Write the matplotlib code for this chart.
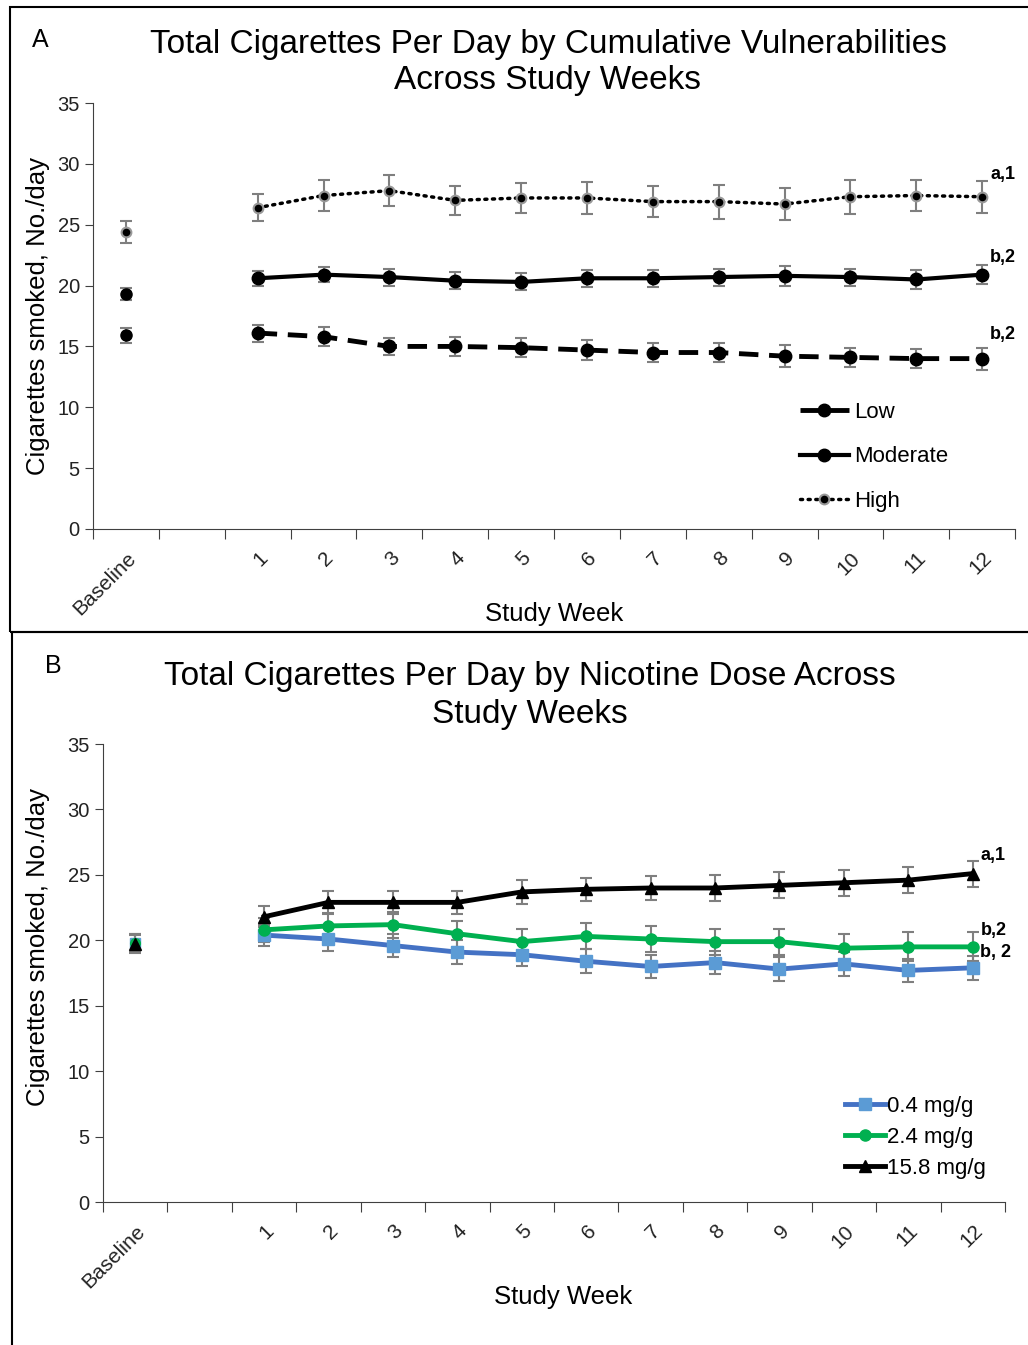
import numpy as np
import matplotlib.pyplot as plt
from matplotlib.patches import Rectangle
from matplotlib.lines import Line2D

plt.rcParams["font.family"] = ["Liberation Sans", "DejaVu Sans"]

# categories: Baseline, empty gap, weeks 1-12
tick_labels = ["Baseline", ""] + [str(w) for w in range(1, 13)]

# Panel A: cumulative vulnerabilities
vuln_names = ["Low", "Moderate", "High"]
low_base, low_base_err = 15.9, 0.6
mod_base, mod_base_err = 19.3, 0.5
high_base, high_base_err = 24.4, 0.9
low_weeks = [16.1, 15.8, 15.0, 15.0, 14.9, 14.7, 14.5, 14.5, 14.2, 14.1, 14.0, 14.0]
low_err = [0.7, 0.8, 0.7, 0.8, 0.8, 0.8, 0.8, 0.8, 0.9, 0.8, 0.8, 0.9]
mod_weeks = [20.6, 20.9, 20.7, 20.4, 20.3, 20.6, 20.6, 20.7, 20.8, 20.7, 20.5, 20.9]
mod_err = [0.6, 0.6, 0.7, 0.7, 0.7, 0.7, 0.7, 0.7, 0.8, 0.7, 0.8, 0.8]
high_weeks = [26.4, 27.4, 27.8, 27.0, 27.2, 27.2, 26.9, 26.9, 26.7, 27.3, 27.4, 27.3]
high_err = [1.1, 1.3, 1.3, 1.2, 1.2, 1.3, 1.3, 1.4, 1.3, 1.4, 1.3, 1.3]
vuln_notes = ["b,2", "b,2", "a,1"]

# Panel B: nicotine dose
dose_names = ["0.4 mg/g", "2.4 mg/g", "15.8 mg/g"]
dose_base = [19.8, 19.8, 19.7]
dose_base_err = [0.7, 0.7, 0.7]
d04_weeks = [20.4, 20.1, 19.6, 19.1, 18.9, 18.4, 18.0, 18.3, 17.8, 18.2, 17.7, 17.9]
d04_err = [0.8, 0.9, 0.9, 0.9, 0.9, 0.9, 0.9, 0.9, 0.9, 0.9, 0.9, 0.9]
d24_weeks = [20.8, 21.1, 21.2, 20.5, 19.9, 20.3, 20.1, 19.9, 19.9, 19.4, 19.5, 19.5]
d24_err = [0.9, 1.0, 1.0, 1.0, 1.0, 1.0, 1.0, 1.0, 1.0, 1.1, 1.1, 1.1]
d158_weeks = [21.8, 22.9, 22.9, 22.9, 23.7, 23.9, 24.0, 24.0, 24.2, 24.4, 24.6, 25.1]
d158_err = [0.8, 0.9, 0.9, 0.9, 0.9, 0.9, 0.9, 1.0, 1.0, 1.0, 1.0, 1.0]
dose_notes = ["b, 2", "b,2", "a,1"]

base_x = 0.5
week_x = np.arange(12) + 2.5
err_col = "#7f7f7f"


def style_axis(ax):
    ax.set_xlim(0, 14)
    ax.set_ylim(0, 35)
    ax.set_yticks(range(0, 36, 5))
    ax.spines["top"].set_visible(False)
    ax.spines["right"].set_visible(False)
    ax.spines["left"].set_color("#404040")
    ax.spines["bottom"].set_color("#404040")
    ax.set_xticks(range(15))
    ax.set_xticklabels([])
    ax.set_xticks(np.arange(14) + 0.5, minor=True)
    ax.set_xticklabels(tick_labels, minor=True, rotation=45, ha="right",
                       rotation_mode="anchor", fontsize=15, color="#222222")
    ax.tick_params(axis="x", which="major", direction="out", length=7, color="#404040")
    ax.tick_params(axis="x", which="minor", length=0, pad=14)
    ax.tick_params(axis="y", direction="out", length=6, labelsize=14.5,
                   color="#404040", labelcolor="#222222")


fig = plt.figure(figsize=(10.28, 13.45), dpi=100)

# panel frames
fig.patches.append(Rectangle((10 / 1028, 1 - 632 / 1345), 1.2, 625 / 1345,
                             transform=fig.transFigure, fill=False, lw=1.5, ec="black"))
fig.patches.append(Rectangle((12 / 1028, -0.1), 1.2, 0.1 + 1 - 632 / 1345,
                             transform=fig.transFigure, fill=False, lw=1.5, ec="black"))

# ---------- Panel A ----------
axA = fig.add_axes([0.0905, 0.6067, 0.897, 0.3167])
style_axis(axA)

ekw = dict(ecolor=err_col, elinewidth=1.5, capsize=4, capthick=1.5)
for b, be in [(low_base, low_base_err), (mod_base, mod_base_err)]:
    axA.errorbar(base_x, b, yerr=be, fmt="o", color="black", ms=8, **ekw)
axA.errorbar(base_x, high_base, yerr=high_base_err, fmt="o", color="black",
             mec="#999999", mew=1.5, ms=7, **ekw)

low_style = dict(color="black", lw=3.5, ls=(0, (4, 2.2)), marker="o", ms=9)
mod_style = dict(color="black", lw=3, marker="o", ms=9)
high_style = dict(color="black", lw=2.5, ls=(0, (0.6, 1.6)), dash_capstyle="round",
                  marker="o", ms=7, mec="#999999", mew=1.5)
axA.errorbar(week_x, low_weeks, yerr=low_err, **low_style, **ekw)
axA.errorbar(week_x, mod_weeks, yerr=mod_err, **mod_style, **ekw)
axA.errorbar(week_x, high_weeks, yerr=high_err, **high_style, **ekw)

for y, note in zip([low_weeks[-1] + 1.3, mod_weeks[-1] + 0.7, high_weeks[-1] + 1.1], vuln_notes):
    axA.text(week_x[-1] + 0.12, y, note, fontsize=13, fontweight="bold", va="bottom")

hA = [Line2D([], [], **s) for s in (low_style, mod_style, high_style)]
axA.legend(hA, vuln_names, loc="upper left", bbox_to_anchor=(0.745, 0.345), frameon=False,
           fontsize=16, handlelength=2.2, labelspacing=1.05, handletextpad=0.25)

fig.text(40 / 1028, 1 - 40 / 1345, "A", fontsize=18, ha="center", va="center")
fig.text(548 / 1028, 1 - 44 / 1345, "Total Cigarettes Per Day by Cumulative Vulnerabilities",
         fontsize=24, ha="center", va="center")
fig.text(548 / 1028, 1 - 81 / 1345, "Across Study Weeks", fontsize=24, ha="center", va="center")
fig.text(554 / 1028, 1 - 614 / 1345, "Study Week", fontsize=18.5, ha="center", va="center")
fig.text(38 / 1028, 1 - 316 / 1345, "Cigarettes smoked, No./day", fontsize=18.5,
         rotation=90, ha="center", va="center")

# ---------- Panel B ----------
axB = fig.add_axes([0.1002, 0.1063, 0.8774, 0.3405])
style_axis(axB)

blue_line, blue_mk = "#4472C4", "#5B9BD5"
green = "#00B050"
axB.errorbar(base_x, dose_base[0], yerr=dose_base_err[0], fmt="s", color=blue_mk, ms=7, **ekw)
axB.errorbar(base_x, dose_base[1], yerr=dose_base_err[1], fmt="o", color=green, ms=7, **ekw)
axB.errorbar(base_x, dose_base[2], yerr=dose_base_err[2], fmt="^", color="black", ms=8, **ekw)

d04_style = dict(color=blue_line, lw=3.5, marker="s", ms=8, mfc=blue_mk, mec=blue_mk)
d24_style = dict(color=green, lw=3.5, marker="o", ms=8)
d158_style = dict(color="black", lw=3.5, marker="^", ms=9)
axB.errorbar(week_x, d04_weeks, yerr=d04_err, **d04_style, **ekw)
axB.errorbar(week_x, d24_weeks, yerr=d24_err, **d24_style, **ekw)
axB.errorbar(week_x, d158_weeks, yerr=d158_err, **d158_style, **ekw)

for y, note in zip([d04_weeks[-1] + 0.5, d24_weeks[-1] + 0.6, d158_weeks[-1] + 0.7], dose_notes):
    axB.text(week_x[-1] + 0.12, y, note, fontsize=13, fontweight="bold", va="bottom")

hB = [Line2D([], [], **s) for s in (d04_style, d24_style, d158_style)]
axB.legend(hB, dose_names, loc="upper left", bbox_to_anchor=(0.8, 0.275), frameon=False,
           fontsize=16, handlelength=1.8, labelspacing=0.45, handletextpad=0.1)

fig.text(53 / 1028, 1 - 666 / 1345, "B", fontsize=18, ha="center", va="center")
fig.text(530 / 1028, 1 - 677 / 1345, "Total Cigarettes Per Day by Nicotine Dose Across",
         fontsize=24, ha="center", va="center")
fig.text(530 / 1028, 1 - 714 / 1345, "Study Weeks", fontsize=24, ha="center", va="center")
fig.text(563 / 1028, 1 - 1297 / 1345, "Study Week", fontsize=18.5, ha="center", va="center")
fig.text(38 / 1028, 1 - 947 / 1345, "Cigarettes smoked, No./day", fontsize=18.5,
         rotation=90, ha="center", va="center")

fig.savefig("out.png", dpi=100)
